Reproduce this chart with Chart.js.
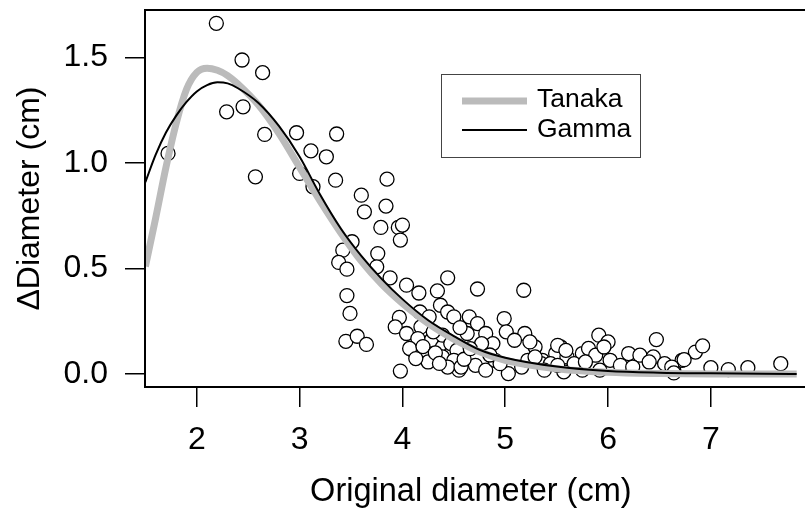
<!DOCTYPE html>
<html>
<head>
<meta charset="utf-8">
<script src="https://cdn.jsdelivr.net/npm/chart.js@4.4.0/dist/chart.umd.min.js"></script>
<style>
  html, body { margin: 0; padding: 0; background: #fff; }
  #wrap { width: 805px; height: 516px; }
</style>
</head>
<body>
<div id="wrap"><canvas id="chart" width="805" height="516"></canvas></div>
<script>
// axis ticks
const xTicks = [2, 3, 4, 5, 6, 7];
const yTicks = [0, 0.5, 1, 1.5];
const yTickLabels = ["0.0", "0.5", "1.0", "1.5"];

// observed points (original diameter, change in diameter)
const obsX = [2.19, 2.44, 2.64, 2.29, 2.45, 2.66, 1.72, 2.57, 2.97, 3.11, 3.00, 3.13, 3.26, 3.36, 3.35, 3.60,
  3.85, 3.84, 3.63, 3.79, 3.96, 4.00, 3.98, 3.51, 3.42, 3.38, 3.46, 3.76, 3.75, 3.88, 4.04, 4.16,
  4.34, 4.44, 3.46, 4.73, 5.18, 3.49, 3.45, 3.56, 3.65, 3.98, 3.97, 3.93, 4.04, 4.17, 4.26, 4.37,
  4.44, 4.50, 4.18, 4.28, 4.10, 4.23, 4.25, 4.39, 4.47, 4.55, 4.65, 4.73, 4.63, 4.81, 4.71, 4.81,
  4.90, 4.99, 5.01, 5.19, 5.29, 5.03, 5.09, 5.36, 4.15, 4.39, 4.47, 4.07, 4.53, 4.39, 4.50, 4.44,
  4.57, 4.95, 5.16, 5.22, 4.88, 4.77, 5.24, 4.13, 5.35, 5.54, 5.49, 5.60, 5.75, 5.81, 5.91, 6.00,
  5.88, 6.02, 6.20, 6.31, 6.44, 6.47, 6.55, 6.64, 6.72, 6.85, 6.92, 7.00, 7.17, 7.36, 7.68, 5.75,
  5.44, 5.67, 6.12, 6.24, 6.40, 5.29, 5.51, 5.59, 5.96, 5.38, 5.57, 5.92, 5.51, 5.78, 6.62, 6.74,
  6.64, 4.20, 4.32, 4.36, 4.60, 4.66, 4.85, 4.30, 4.56];
const obsY = [1.663, 1.489, 1.429, 1.243, 1.267, 1.136, 1.046, 0.935, 1.144, 1.058, 0.951, 0.888, 1.030, 1.138, 0.919, 0.848,
  0.924, 0.796, 0.769, 0.695, 0.695, 0.706, 0.635, 0.627, 0.587, 0.529, 0.497, 0.571, 0.508, 0.456, 0.421, 0.384,
  0.394, 0.456, 0.372, 0.403, 0.397, 0.287, 0.155, 0.179, 0.140, 0.014, 0.268, 0.223, 0.192, 0.294, 0.271, 0.326,
  0.294, 0.271, 0.223, 0.160, 0.112, 0.097, 0.057, 0.128, 0.097, 0.018, 0.271, 0.239, 0.192, 0.192, 0.041, 0.018,
  0.065, 0.263, 0.200, 0.192, 0.128, 0.002, 0.160, 0.065, 0.168, 0.184, 0.144, 0.121, 0.112, 0.081, 0.065, 0.033,
  0.033, 0.049, 0.033, 0.065, 0.144, 0.144, 0.152, 0.073, 0.049, 0.128, 0.097, 0.081, 0.097, 0.121, 0.184, 0.152,
  0.089, 0.065, 0.097, 0.089, 0.081, 0.163, 0.049, 0.018, 0.065, 0.104, 0.133, 0.030, 0.021, 0.030, 0.049, 0.018,
  0.049, 0.049, 0.041, 0.033, 0.057, 0.081, 0.136, 0.112, 0.128, 0.018, 0.010, 0.018, 0.041, 0.057, 0.033, 0.068,
  0.005, 0.130, 0.100, 0.050, 0.070, 0.120, 0.090, 0.200, 0.220];

// fitted curves
const curveX = [1.5, 1.6, 1.7, 1.8, 1.9, 2.0, 2.1, 2.2, 2.3, 2.4, 2.6, 2.8, 3.0, 3.2, 3.4, 3.6, 3.8, 4.0,
  4.25, 4.5, 4.75, 5.0, 5.5, 6.0, 6.5, 7.0, 7.5, 8.0];
const tanakaY = [0.51, 0.74, 0.98, 1.19, 1.35, 1.43, 1.45, 1.44, 1.415, 1.375, 1.275, 1.14, 0.98, 0.82, 0.67, 0.535, 0.425, 0.335,
  0.24, 0.165, 0.105, 0.065, 0.025, 0.008, 0.002, 0, 0, 0];
const gammaY = [0.91, 1.04, 1.145, 1.225, 1.29, 1.34, 1.37, 1.383, 1.378, 1.355, 1.285, 1.175, 1.03, 0.85, 0.69, 0.56, 0.45, 0.355,
  0.255, 0.18, 0.115, 0.077, 0.035, 0.014, 0.006, 0.003, 0.001, 0];

const FONT = '"Liberation Sans", Arial, Helvetica, sans-serif';

function pairs(xs, ys) {
  return xs.map((x, i) => ({ x: x, y: ys[i] }));
}

const frameAndKey = {
  id: "frameAndKey",
  afterDraw(chart) {
    const ctx = chart.ctx;
    const a = chart.chartArea;
    ctx.save();
    // R style box, right side runs off the picture
    ctx.strokeStyle = "#000";
    ctx.lineWidth = 2;
    ctx.strokeRect(a.left, a.top, a.right - a.left + 20, a.bottom - a.top);

    // legend
    ctx.lineWidth = 1;
    ctx.strokeStyle = "#444";
    ctx.strokeRect(441.5, 74.5, 199, 83);
    ctx.lineCap = "butt";
    ctx.strokeStyle = "#bbbbbb";
    ctx.lineWidth = 7;
    ctx.beginPath(); ctx.moveTo(462, 101); ctx.lineTo(527, 101); ctx.stroke();
    ctx.strokeStyle = "#000";
    ctx.lineWidth = 2;
    ctx.beginPath(); ctx.moveTo(462, 130); ctx.lineTo(527, 130); ctx.stroke();
    ctx.fillStyle = "#000";
    ctx.font = "26.5px " + FONT;
    ctx.textBaseline = "middle";
    ctx.textAlign = "left";
    ctx.fillText("Tanaka", 537, 100);
    ctx.fillText("Gamma", 537, 130);
    ctx.restore();
  }
};

new Chart(document.getElementById("chart"), {
  type: "scatter",
  data: {
    datasets: [
      {
        label: "Gamma",
        data: pairs(curveX, gammaY),
        showLine: true,
        borderColor: "#000",
        borderWidth: 2,
        pointRadius: 0,
        cubicInterpolationMode: "monotone",
        order: 1
      },
      {
        label: "Tanaka",
        data: pairs(curveX, tanakaY),
        showLine: true,
        borderColor: "#bbbbbb",
        borderWidth: 7,
        pointRadius: 0,
        cubicInterpolationMode: "monotone",
        order: 2
      },
      {
        label: "Observed",
        data: pairs(obsX, obsY),
        pointRadius: 7,
        pointBorderWidth: 1.3,
        pointBackgroundColor: "#fff",
        pointBorderColor: "#000",
        order: 3
      }
    ]
  },
  options: {
    responsive: false,
    animation: false,
    devicePixelRatio: 1,
    layout: { padding: { top: 10, right: 0, bottom: 0, left: 0 } },
    plugins: { legend: { display: false }, tooltip: { enabled: false } },
    scales: {
      x: {
        type: "linear",
        min: 1.496,
        max: 7.835,
        afterBuildTicks: s => { s.ticks = xTicks.map(v => ({ value: v })); },
        afterFit: s => { s.height = 129; s.paddingLeft = 0; s.paddingRight = 0; },
        ticks: { color: "#000", font: { family: FONT, size: 32, lineHeight: 1 }, padding: 17, maxRotation: 0 },
        grid: { drawOnChartArea: false, drawTicks: true, tickLength: 20, color: "#000", lineWidth: 1.5 },
        border: { display: false },
        title: {
          display: true,
          text: "Original diameter (cm)",
          color: "#000",
          font: { family: FONT, size: 32.5, lineHeight: 1 },
          padding: { top: 0, bottom: 8 }
        }
      },
      y: {
        type: "linear",
        min: -0.0617,
        max: 1.726,
        afterBuildTicks: s => { s.ticks = yTicks.map(v => ({ value: v })); },
        afterFit: s => { s.width = 145; s.paddingTop = 0; s.paddingBottom = 0; },
        ticks: {
          color: "#000",
          font: { family: FONT, size: 32, lineHeight: 1 },
          padding: 17,
          callback: (v, i) => yTickLabels[i]
        },
        grid: { drawOnChartArea: false, drawTicks: true, tickLength: 20, color: "#000", lineWidth: 1.5 },
        border: { display: false },
        title: {
          display: true,
          text: "ΔDiameter (cm)",
          color: "#000",
          font: { family: FONT, size: 32, lineHeight: 1 },
          padding: { top: 14, bottom: 0 }
        }
      }
    }
  },
  plugins: [frameAndKey]
});
</script>
</body>
</html>
